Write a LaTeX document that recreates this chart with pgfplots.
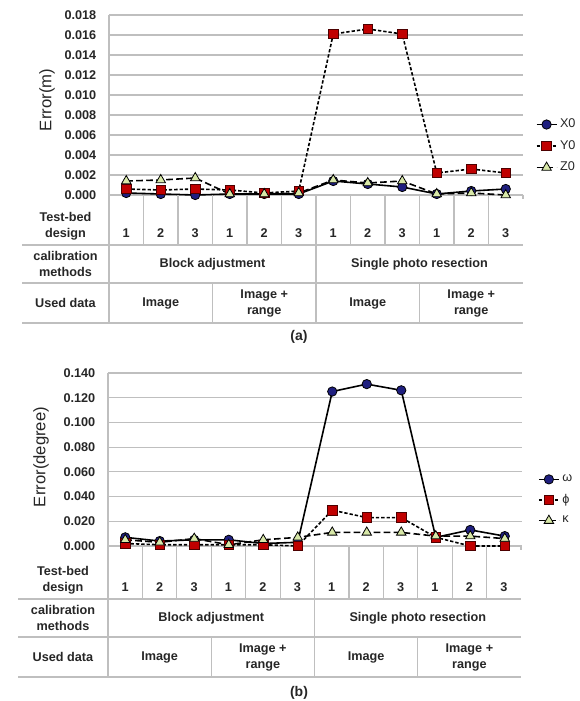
\documentclass[border=0pt]{standalone}
\usepackage{fontspec}
\setmainfont{Liberation Sans}
\usepackage{pgfplots}
\pgfplotsset{compat=1.18}
\definecolor{navy}{HTML}{1F1F7F}
\definecolor{dred}{HTML}{C00000}
\definecolor{lgreen}{HTML}{D8E8A8}
\definecolor{gridgray}{HTML}{BFBFBF}
\definecolor{txt}{HTML}{262626}

\pgfplotsset{
  panel/.style={
    scale only axis, width=310.5pt, xmin=0.5, xmax=12.5, ymin=0,
    axis x line*=bottom, axis y line*=left,
    axis line style={gridgray, line width=0.9pt},
    xtick=\empty,
    ymajorgrids, grid style={gridgray, line width=0.9pt},
    major tick length=0pt,
    y tick label style={font=\bfseries\fontsize{9.5}{10}\selectfont, text=txt, xshift=-6pt,
      /pgf/number format/.cd, fixed, fixed zerofill, precision=3, assume math mode=true},
    scaled y ticks=false,
    clip=false,
    legend style={draw=none, fill=none, font=\fontsize{9.5}{10}\selectfont, text=txt,
      row sep=4pt, cells={anchor=west}, inner sep=1pt},
    legend cell align=left,
    legend image code/.code={\draw[mark repeat=2,mark phase=2,##1] plot coordinates {(0pt,0pt) (7.5pt,0pt) (15pt,0pt)};},
  },
  sX/.style={black, line width=1.2pt, mark=*, mark size=3.5pt,
    mark options={solid, fill=navy, draw=black, line width=0.6pt}},
  sY/.style={black, line width=1.2pt, dash pattern=on 2.5pt off 1.5pt, mark=square*, mark size=3.6pt,
    mark options={solid, fill=dred, draw=black!60!dred, line width=0.6pt}},
  sZ/.style={black, line width=1.2pt, dash pattern=on 5pt off 2.5pt, mark=triangle*, mark size=4.1pt,
    mark options={solid, fill=lgreen, draw=black, line width=0.6pt}},
}

\newcommand{\tb}{\bfseries\fontsize{9.5}{12}\selectfont\color{txt}}
% #1 left of label column, #2 plot left, #3 col width, #4 axis y, #5 #6 #7 row bottoms (y down)
\newcommand{\datatable}[7]{%
  \foreach \i in {0,...,11} \draw[gridgray, line width=0.9pt] ({#2+\i*#3},#4) -- ({#2+\i*#3},#5);
  \draw[gridgray, line width=0.9pt] ({#2+12*#3},#4) -- ({#2+12*#3},{#4+4});
  \foreach \i in {0,6} \draw[gridgray, line width=0.9pt] ({#2+\i*#3},#5) -- ({#2+\i*#3},#6);
  \foreach \i in {0,3,6,9} \draw[gridgray, line width=0.9pt] ({#2+\i*#3},#6) -- ({#2+\i*#3},#7);
  \foreach \yy in {#5,#6,#7} \draw[gridgray, line width=0.9pt] (#1,\yy) -- ({#2+12*#3},\yy);
  \foreach \i/\n in {0/1,1/2,2/3,3/1,4/2,5/3,6/1,7/2,8/3,9/1,10/2,11/3}
    \node[font=\tb, anchor=base] at ({#2+(\i+0.5)*#3},{#5-7}) {\n};
  \node[font=\tb, align=center, anchor=base] at ({(#1+#2)/2},{#5-7}) {Test-bed\\design};
  \node[font=\tb, align=center] at ({(#1+#2)/2},{(#5+#6)/2}) {calibration\\methods};
  \node[font=\tb, align=center] at ({(#1+#2)/2},{(#6+#7)/2}) {Used data};
  \node[font=\tb] at ({#2+3*#3},{(#5+#6)/2}) {Block adjustment};
  \node[font=\tb] at ({#2+9*#3},{(#5+#6)/2}) {Single photo resection};
  \node[font=\tb] at ({#2+1.5*#3},{(#6+#7)/2}) {Image};
  \node[font=\tb, align=center] at ({#2+4.5*#3},{(#6+#7)/2}) {Image +\\range};
  \node[font=\tb] at ({#2+7.5*#3},{(#6+#7)/2}) {Image};
  \node[font=\tb, align=center] at ({#2+10.5*#3},{(#6+#7)/2}) {Image +\\range};
}

\begin{document}
\begin{tikzpicture}[x=0.75pt, y=0.75pt]
\useasboundingbox (0pt,0pt) rectangle (435pt,525.75pt);

% ---------------- (a) ----------------
\begin{axis}[panel, at={(81.75pt,379.5pt)}, anchor=south west, height=135pt, ymax=0.018,
  ytick={0,0.002,0.004,0.006,0.008,0.010,0.012,0.014,0.016,0.018},
  legend style={at={(1.027,0.272)}, anchor=west}]
\addplot[sX] coordinates {(1,0.0002) (2,0.0001) (3,0.0000) (4,0.0001) (5,0.0001) (6,0.0001)
  (7,0.0014) (8,0.0011) (9,0.0008) (10,0.0001) (11,0.0004) (12,0.0006)};
\addplot[sY] coordinates {(1,0.0006) (2,0.0005) (3,0.0006) (4,0.0005) (5,0.0002) (6,0.0004)
  (7,0.0161) (8,0.0166) (9,0.0161) (10,0.0022) (11,0.0026) (12,0.0022)};
\addplot[sZ] coordinates {(1,0.0014) (2,0.0015) (3,0.0017) (4,0.0001) (5,0.0001) (6,0.0002)
  (7,0.0015) (8,0.0012) (9,0.0014) (10,0.0001) (11,0.0002) (12,0.0000)};
\legend{X0, Y0, Z0}
\end{axis}

% ---------------- (b) ----------------
\begin{axis}[panel, at={(81pt,116.25pt)}, anchor=south west, height=129.75pt, ymax=0.140,
  ytick={0,0.02,0.04,0.06,0.08,0.10,0.12,0.14},
  legend style={at={(1.035,0.266)}, anchor=west}]
\addplot[sX] coordinates {(1,0.007) (2,0.004) (3,0.005) (4,0.005) (5,0.002) (6,0.003)
  (7,0.125) (8,0.131) (9,0.126) (10,0.007) (11,0.013) (12,0.008)};
\addplot[sY] coordinates {(1,0.002) (2,0.001) (3,0.001) (4,0.001) (5,0.001) (6,0.000)
  (7,0.029) (8,0.023) (9,0.023) (10,0.007) (11,0.000) (12,0.000)};
\addplot[sZ] coordinates {(1,0.005) (2,0.003) (3,0.006) (4,0.001) (5,0.005) (6,0.007)
  (7,0.011) (8,0.011) (9,0.011) (10,0.008) (11,0.008) (12,0.006)};
\legend{ω, ϕ, κ}
\end{axis}

\begin{scope}[shift={(0,701)}, yscale=-1]
\node[rotate=90, font=\fontsize{12.5}{14}\selectfont\color{txt}] at (47,100) {Error(m)};
\datatable{22}{109}{34.5}{195}{245}{283}{323}
\node[font=\bfseries\fontsize{10.5}{12}\selectfont\color{txt}] at (299,337) {(a)};
\node[rotate=90, font=\fontsize{12.5}{14}\selectfont\color{txt}] at (41,457) {Error(degree)};
\datatable{18}{108}{34.42}{546}{599}{637}{677}
\node[font=\bfseries\fontsize{10.5}{12}\selectfont\color{txt}] at (299,693) {(b)};
\end{scope}
\end{tikzpicture}
\end{document}
